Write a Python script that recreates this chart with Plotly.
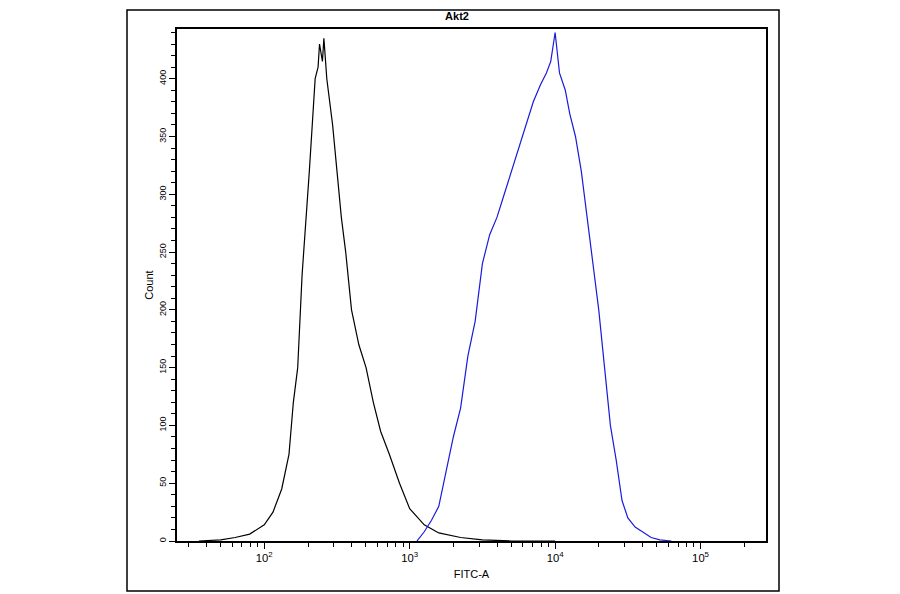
import plotly.graph_objects as go

# log10(FITC-A) positions and counts
iso_log = [1.55, 1.7, 1.8, 1.9, 2.0, 2.06, 2.12, 2.17, 2.2, 2.23, 2.26, 2.29, 2.31, 2.33, 2.35, 2.37, 2.38, 2.4, 2.41, 2.43, 2.45, 2.47, 2.5, 2.53, 2.56, 2.6, 2.65, 2.7, 2.75, 2.8, 2.86, 2.93, 3.0, 3.1, 3.2, 3.35, 3.5, 3.7, 4.0]
iso_cnt = [0, 1, 3, 6, 14, 25, 45, 75, 120, 150, 230, 280, 320, 360, 400, 410, 430, 415, 435, 400, 380, 360, 320, 280, 250, 200, 170, 150, 120, 95, 75, 50, 28, 14, 7, 3, 1, 0, 0]

akt_log = [3.05, 3.1, 3.15, 3.2, 3.25, 3.3, 3.35, 3.4, 3.45, 3.5, 3.55, 3.6, 3.65, 3.7, 3.75, 3.8, 3.85, 3.9, 3.94, 3.97, 4.0, 4.03, 4.07, 4.1, 4.14, 4.18, 4.22, 4.26, 4.3, 4.34, 4.38, 4.42, 4.46, 4.5, 4.55, 4.6, 4.66, 4.72, 4.8]
akt_cnt = [0, 8, 18, 30, 60, 90, 115, 160, 190, 240, 265, 280, 300, 320, 340, 360, 380, 395, 405, 415, 440, 405, 390, 370, 350, 320, 280, 240, 200, 150, 100, 70, 35, 20, 12, 8, 3, 1, 0]

title = "Akt2"

fig = go.Figure()
fig.add_trace(go.Scatter(x=[10**v for v in iso_log], y=iso_cnt, mode="lines",
                         line=dict(color="black", width=1.2)))
fig.add_trace(go.Scatter(x=[10**v for v in akt_log], y=akt_cnt, mode="lines",
                         line=dict(color="#1a1adc", width=1.2)))

fig.update_layout(
    width=900, height=594, showlegend=False,
    margin=dict(l=169, r=142, t=21, b=61, autoexpand=False),
    paper_bgcolor="white", plot_bgcolor="white",
    font=dict(family="Liberation Sans, Arial", color="black", size=10),
    title=dict(text="<b>" + title + "</b>", x=(456 - 176) / 589, xref="paper",
               y=1 - 8 / 594, yanchor="middle", font=dict(size=11)),
)
fig.update_xaxes(type="log", range=[1.4, 5.45], dtick=1, exponentformat="power", automargin=False,
                 showline=True, linecolor="black", linewidth=1.5, mirror=True,
                 ticks="outside", ticklen=6, tickcolor="black", showgrid=False, zeroline=False,
                 minor=dict(ticks="outside", ticklen=4, tickcolor="black", showgrid=False),
                 title=dict(text="FITC-A", standoff=8, font=dict(size=11)),
                 tickfont=dict(size=9))
fig.update_yaxes(range=[0, 443], dtick=50, tickangle=-90, automargin=False,
                 showline=True, linecolor="black", linewidth=1.5, mirror=True,
                 ticks="outside", ticklen=6, tickcolor="black", showgrid=False, zeroline=False,
                 minor=dict(dtick=10, ticks="outside", ticklen=4, tickcolor="black", showgrid=False),
                 title=dict(text="Count", standoff=2, font=dict(size=11)),
                 tickfont=dict(size=9))
fig.add_shape(type="rect", xref="paper", yref="paper",
              x0=-50 / 589, x1=602 / 589, y0=-50 / 512, y1=1 + 19 / 512,
              line=dict(color="black", width=1.5))
fig.write_html("out.html")
